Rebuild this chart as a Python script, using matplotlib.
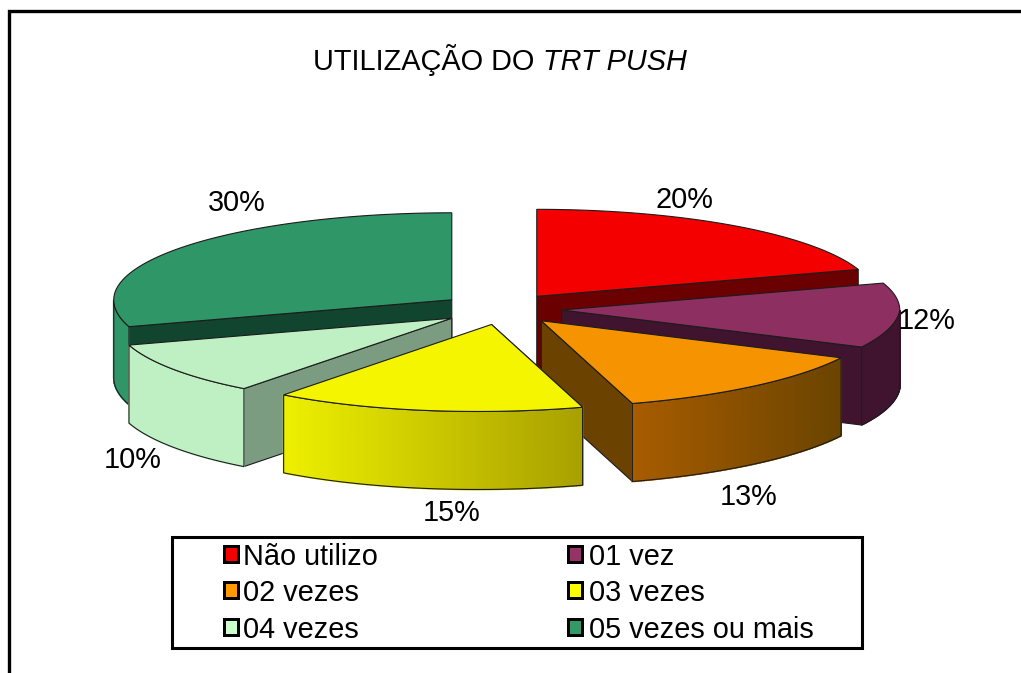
import numpy as np
import matplotlib
matplotlib.use("Agg")
import matplotlib.pyplot as plt
from matplotlib.patches import Polygon, Rectangle

# data
categories = ["Não utilizo", "01 vez", "02 vezes", "03 vezes", "04 vezes", "05 vezes ou mais"]
percents = [20, 12, 13, 15, 10, 30]

# styles, one per slice
top_colors = ["#f50000", "#8e2f62", "#f59300", "#f5f500", "#bff0c4", "#2f9668"]
inner_colors = ["#6b0000", "#40142f", "#6b4200", "#7d7d00", "#7b9c80", "#12452f"]
wall_left = ["#6b0000", "#40142f", "#a85c00", "#eef000", "#bff0c4", "#2f9668"]
wall_right = ["#6b0000", "#40142f", "#6a4400", "#a8a000", "#bff0c4", "#2f9668"]
legend_colors = ["#f50000", "#963366", "#ff9900", "#ffff00", "#ccffcc", "#339966"]
draw_order = [5, 0, 1, 4, 2, 3]

# pie geometry, in pixels of the picture
CX, CY = 501, 309
RX, RY = 338, 87
DEPTH = 78
EXPLODE = 0.18
FRONT_SHIFT = 14  # the front of the pie leans to the left
EDGE = "#1c1c1c"
FONT = 20.8

label_pos = [(684, 200), (927, 321), (749, 497), (452, 513), (133, 460), (237, 203)]

plt.rcParams["font.family"] = ["Liberation Sans", "DejaVu Sans"]

fig = plt.figure(figsize=(10.21, 6.73), dpi=100)
ax = fig.add_axes([0, 0, 1, 1])
ax.set_xlim(0, 1021)
ax.set_ylim(673, 0)
ax.axis("off")


def point(apex, deg):
    a = np.radians(deg)
    s, c = np.sin(a), np.cos(a)
    shift = FRONT_SHIFT * min(c, 0) if s >= 0 else -FRONT_SHIFT * min(c, 0) ** 2
    return apex[0] + RX * s + shift, apex[1] - RY * c


def arc(apex, a0, a1):
    degs = np.linspace(a0, a1, max(int(abs(a1 - a0)) * 2, 2))
    return [point(apex, d) for d in degs]


def blend(c0, c1, t):
    c0 = np.array(matplotlib.colors.to_rgb(c0))
    c1 = np.array(matplotlib.colors.to_rgb(c1))
    return tuple(c0 + (c1 - c0) * t)


# =============================
# SLICES
# =============================
edges = np.cumsum([0] + percents) * 3.6

for i in draw_order:
    a0, a1 = edges[i], edges[i + 1]
    mid = np.radians((a0 + a1) / 2)
    apex = (CX + EXPLODE * RX * np.sin(mid), CY - EXPLODE * RY * np.cos(mid))
    z = 2 + draw_order.index(i)

    # radial wall that faces the viewer
    p = point(apex, a1 if np.sin(mid) > 0 else a0)
    wall = [apex, p, (p[0], p[1] + DEPTH), (apex[0], apex[1] + DEPTH)]
    ax.add_patch(Polygon(wall, fc=inner_colors[i], ec=EDGE, lw=0.8, zorder=z))

    # outer wall, only the part facing the viewer
    w0, w1 = max(a0, 90), min(a1, 270)
    if w1 > w0:
        pts = arc(apex, w0, w1)
        xs = [p[0] for p in pts]
        lo, hi = min(xs), max(xs)
        for p, q in zip(pts[:-1], pts[1:]):
            t = ((p[0] + q[0]) / 2 - lo) / (hi - lo)
            strip = [p, q, (q[0], q[1] + DEPTH), (p[0], p[1] + DEPTH)]
            col = blend(wall_left[i], wall_right[i], t)
            ax.add_patch(Polygon(strip, fc=col, ec=col, lw=1.2, zorder=z))
        outline = pts + [(x, y + DEPTH) for x, y in pts[::-1]]
        ax.add_patch(Polygon(outline, fill=False, ec=EDGE, lw=0.8, zorder=z))

    # top face
    top = [apex] + arc(apex, a0, a1)
    ax.add_patch(Polygon(top, fc=top_colors[i], ec=EDGE, lw=0.8, zorder=z))

# =============================
# TEXTS
# =============================
for val, (x, y) in zip(percents, label_pos):
    ax.text(x, y, f"{val}%", ha="center", va="center", fontsize=FONT, color="black", zorder=20)

ax.text(313, 70, "UTILIZAÇÃO DO", fontsize=FONT, va="baseline", ha="left")
ax.text(543, 70, "TRT PUSH", fontsize=FONT, style="italic", va="baseline", ha="left")

# =============================
# FRAME AND LEGEND
# =============================
ax.plot([9, 9, 1021], [673, 10.7, 10.7], color="black", lw=2.4, zorder=1, solid_joinstyle="miter")

ax.add_patch(Rectangle((171.5, 536.5), 690, 111, fc="white", ec="black", lw=2.2, zorder=21))
swatch_x = [223, 567]
text_x = [243, 589]
row_y = [555, 591, 628]
for i, name in enumerate(categories):
    col, y = i % 2, row_y[i // 2]
    x = swatch_x[col]
    ax.add_patch(Rectangle((x, y - 10), 17, 19, fc="black", ec="none", zorder=22))
    ax.add_patch(Rectangle((x + 3, y - 7), 11, 13, fc=legend_colors[i], ec="none", zorder=23))
    ax.text(text_x[col], y + 10, name, fontsize=FONT, va="baseline", ha="left", zorder=22)

fig.savefig("out.png", dpi=100)
